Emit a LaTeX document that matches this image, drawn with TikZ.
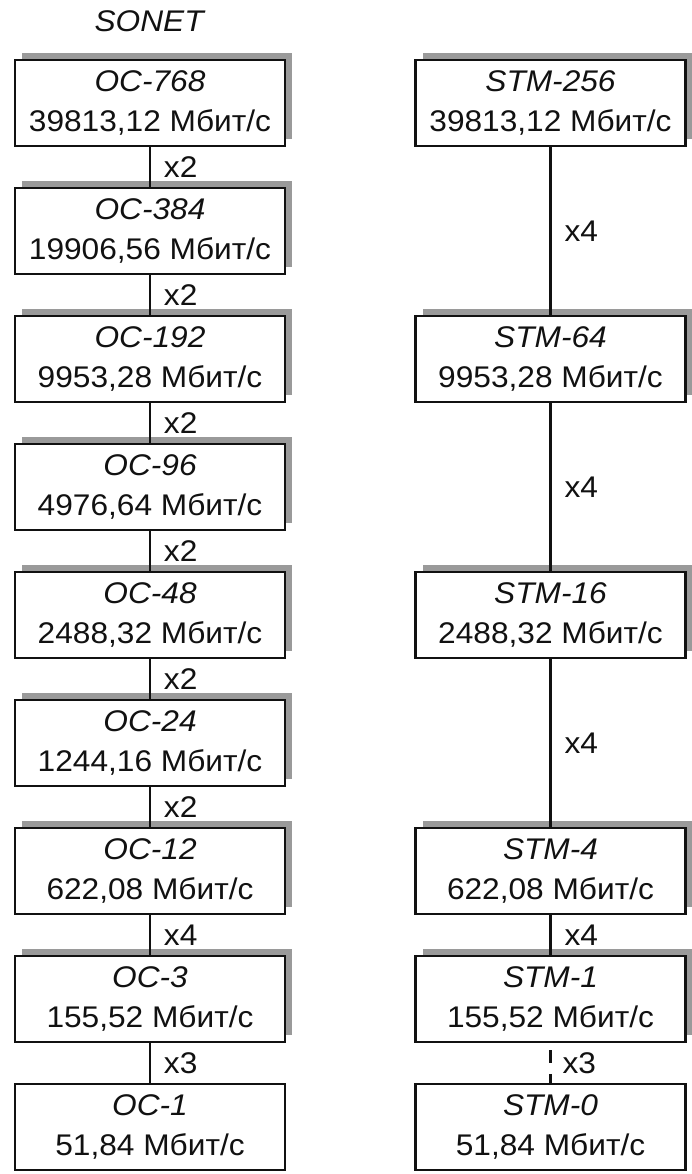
\documentclass[tikz,border=0pt]{standalone}
\usepackage{fontspec}
\setmainfont{Liberation Sans}[FakeStretch=1.06]
\usetikzlibrary{shadows}
\definecolor{rateGray}{HTML}{9A9A9A}
\definecolor{rateInk}{HTML}{111111}
\tikzset{
  rate diagram/.style={
    x=0.02cm, y=-0.02cm,
    every node/.style={font=\fontsize{17}{22.8}\selectfont,
      text=rateInk, inner sep=0pt, outer sep=0pt}
  },
  plain box/.style={draw=rateInk, fill=white, line width=1.5pt,
    minimum width=5.4cm, minimum height=1.72cm, align=center},
  rate box/.style={plain box,
    drop shadow={shadow xshift=0.14cm, shadow yshift=0.14cm,
      fill=rateGray, opacity=1}},
  link/.style={draw=rateInk, line width=1.3pt},
  weak link/.style={draw=rateInk, line width=2.2pt,
    dash pattern=on 0.26cm off 0.22cm, dash phase=0.32cm},
  mult/.style={anchor=west, xshift=0.28cm}
}
\newcommand{\StmBox}[5]{%
  \node[#5] (#1) at (550.5,{103+128*#2}) {\textit{STM-#3}\\#4~Мбит/с};
}

\begin{document}
\begin{tikzpicture}[rate diagram]
    \useasboundingbox (0,0) rectangle (692,1174);
    \node (sonet) at (150,21) {\textit{SONET}};
    % SONET column
    \foreach \ocNum/\ocRate [count=\ocRow from 0] in
      {768/{39813,12},384/{19906,56},192/{9953,28},96/{4976,64},
       48/{2488,32},24/{1244,16},12/{622,08},3/{155,52}} {
      \node[rate box] (oc\ocNum) at (150,{103+128*\ocRow})
        {\textit{OC-\ocNum}\\\ocRate\ Мбит/с};
    }
    \node[plain box] (oc1) at (150,1127) {\textit{OC-1}\\51,84 Мбит/с};
    \foreach \ocTop/\ocBot/\ocMul in
      {768/384/2,384/192/2,192/96/2,96/48/2,48/24/2,24/12/2,12/3/4,3/1/3} {
      \draw[link] (oc\ocTop) -- node[mult] {x\ocMul} (oc\ocBot);
    }
    % SDH column
    \StmBox{stm256}{0}{256}{39813,12}{rate box}
    \StmBox{stm64}{2}{64}{9953,28}{rate box}
    \StmBox{stm16}{4}{16}{2488,32}{rate box}
    \StmBox{stm4}{6}{4}{622,08}{rate box}
    \StmBox{stm1}{7}{1}{155,52}{rate box}
    \StmBox{stm0}{8}{0}{51,84}{plain box}
    \foreach \stmTop/\stmBot in {256/64,64/16,16/4,4/1} {
      \draw[link] (stm\stmTop) -- node[mult] {x4} (stm\stmBot);
    }
    \draw[weak link] (stm1) -- node[mult, xshift=-0.04cm] {x3} (stm0);
\end{tikzpicture}
\end{document}
